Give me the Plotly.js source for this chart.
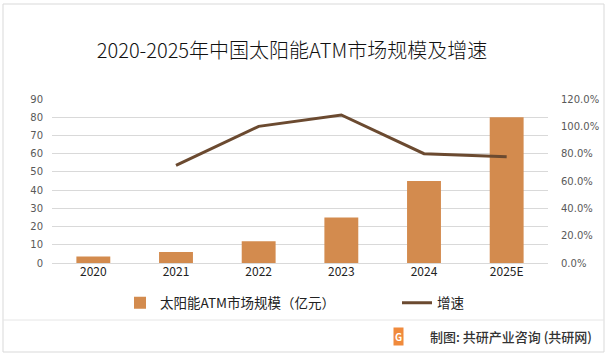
<!DOCTYPE html>
<html>
<head>
<meta charset="utf-8">
<script src="https://cdn.plot.ly/plotly-3.0.1.min.js"></script>
<style>
html,body{margin:0;padding:0;background:#fff;}
#chart{width:610px;height:357px;}
</style>
</head>
<body>
<div id="chart"></div>
<script>
const categories = ["2020", "2021", "2022", "2023", "2024", "2025E"];
const marketSize = [3.5, 6, 12, 25, 45, 80];
const growthCats = ["2021", "2022", "2023", "2024", "2025E"];
const growthRate = [0.714, 1.0, 1.083, 0.80, 0.778];

const L = 52, R = 548, T = 99, B = 263;
const W = R - L, H = B - T;
const px = x => (x - L) / W;
const py = y => (B - y) / H;

const font = '"Noto Sans CJK SC", "Microsoft YaHei", sans-serif';

const traces = [
  {
    type: 'bar', x: categories, y: marketSize, name: '太阳能ATM市场规模（亿元）',
    marker: {color: '#D38B4E'}, width: 0.41, yaxis: 'y', legend: 'legend'
  },
  {
    type: 'scatter', mode: 'lines', x: growthCats, y: growthRate, name: '增速',
    line: {color: '#6B4A30', width: 3}, yaxis: 'y2', legend: 'legend2'
  }
];

const legendBase = {orientation: 'h', xanchor: 'left', y: py(303), yanchor: 'middle',
  font: {family: font, size: 13.5, color: '#222'}, bgcolor: 'rgba(0,0,0,0)'};

const layout = {
  width: 610, height: 357,
  margin: {l: L, r: 610 - R, t: T, b: 357 - B, pad: 0},
  paper_bgcolor: '#fff', plot_bgcolor: '#fff',
  font: {family: font, size: 11, color: '#595959'},
  title: {text: '2020-2025年中国太阳能ATM市场规模及增速', font: {family: font, size: 20, color: '#111', weight: 300},
          x: 292/610, xanchor: 'center', y: 1 - 51/357, yanchor: 'middle'},
  showlegend: true,
  legend: Object.assign({}, legendBase, {x: px(120)}),
  legend2: Object.assign({}, legendBase, {x: px(397)}),
  xaxis: {type: 'category', showgrid: false, zeroline: false, showline: false,
          ticks: '', tickfont: {family: font, size: 12, color: '#222'}},
  yaxis: {range: [0, 90], dtick: 10, showgrid: true, gridcolor: '#D9D9D9', gridwidth: 1,
          zeroline: true, zerolinecolor: '#D9D9D9', showline: false, ticks: '', ticklabelstandoff: 8,
          tickfont: {family: 'DejaVu Sans, sans-serif', size: 10, color: '#595959'}},
  yaxis2: {range: [0, 1.2], dtick: 0.2, tickformat: '.1%', overlaying: 'y', side: 'right',
           showgrid: false, zeroline: false, showline: false, ticks: '', ticklabelstandoff: 12,
           tickfont: {family: 'DejaVu Sans, sans-serif', size: 10, color: '#595959'}},
  shapes: [
    {type: 'rect', xref: 'paper', yref: 'paper', x0: px(3), x1: px(604), y0: py(352), y1: py(4),
     line: {color: '#D9D9D9', width: 1}, fillcolor: 'rgba(0,0,0,0)'},
    {type: 'line', xref: 'paper', yref: 'paper', x0: px(3), x1: px(604), y0: py(320), y1: py(320),
     line: {color: '#E6E6E6', width: 1}}
  ],
  annotations: [
    {xref: 'paper', yref: 'paper', x: px(398), y: py(336), xanchor: 'center', yanchor: 'middle',
     text: '<b>G</b>', showarrow: false, bgcolor: '#F08A3C', font: {family: font, size: 10, color: '#fff'},
     borderpad: 1},
    {xref: 'paper', yref: 'paper', x: px(594), y: py(336), xanchor: 'right', yanchor: 'middle',
     text: '制图: 共研产业咨询 (共研网)', showarrow: false, font: {family: font, size: 13, color: '#333', weight: 500}}
  ]
};

Plotly.newPlot('chart', traces, layout, {displayModeBar: false, staticPlot: true});
</script>
</body>
</html>
